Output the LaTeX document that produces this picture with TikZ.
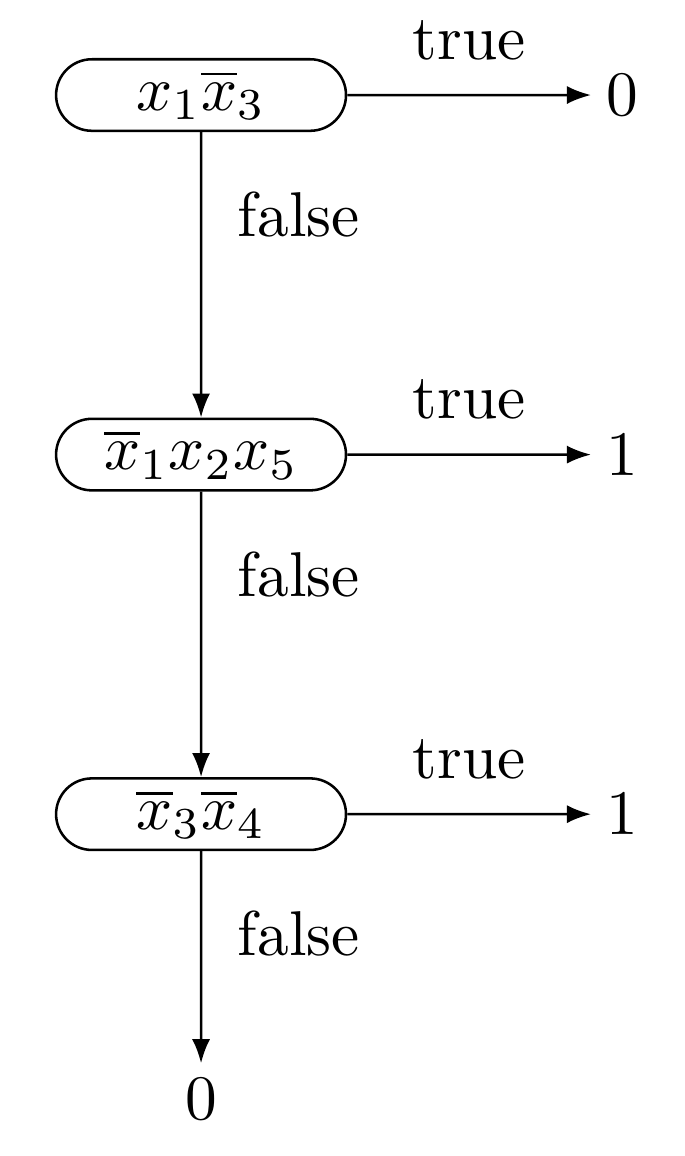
\documentclass[tikz,border=0pt]{standalone}
\usepackage{amsmath}
\usetikzlibrary{arrows.meta,positioning,shapes.misc}

\begin{document}
\begin{tikzpicture}[
  test/.style={rounded rectangle,draw,line width=.4pt,minimum width=47.8pt,minimum height=11.3pt,inner sep=1pt},
  leaf/.style={inner sep=2.2pt},
  flow/.style={-{Latex[length=3.8pt,width=2.85pt]},line width=.4pt},
  yes/.style={midway,above,yshift=2pt},
  no/.style={right,xshift=2.3pt}
]
\useasboundingbox (-31.76pt,15.01pt) rectangle (76.31pt,-167.6pt);

% decision chain
\node[test] (t1) at (0,0) {$x_1\overline{x}_3$};
\node[test,below=45.1pt of t1] (t2) {$\overline{x}_1x_2x_5$};
\node[test,below=45.1pt of t2] (t3) {$\overline{x}_3\overline{x}_4$};

% outcomes
\node[leaf,right=38.5pt of t1] (o1) {$0$};
\node[leaf,right=38.5pt of t2] (o2) {$1$};
\node[leaf,right=38.5pt of t3] (o3) {$1$};
\node[leaf,below=33.5pt of t3] (o4) {$0$};

% true branches
\draw[flow] (t1) -- node[yes] {true} (o1);
\draw[flow] (t2) -- node[yes] {true} (o2);
\draw[flow] (t3) -- node[yes] {true} (o3);

% false branches
\draw[flow] (t1) -- node[no,pos=.29] {false} (t2);
\draw[flow] (t2) -- node[no,pos=.29] {false} (t3);
\draw[flow] (t3) -- node[no,pos=.39] {false} (o4);
\end{tikzpicture}
\end{document}
